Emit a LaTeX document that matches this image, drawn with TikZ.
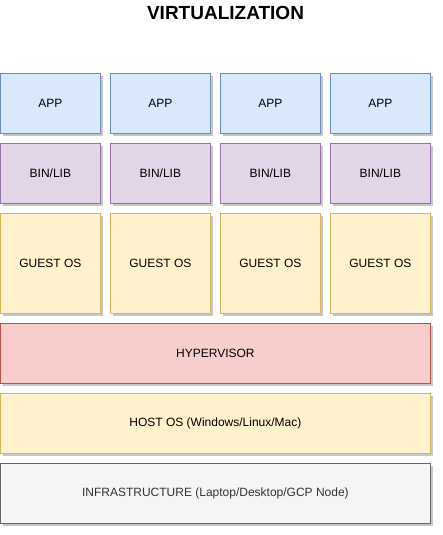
\documentclass[tikz,border=0pt]{standalone}
\usepackage{fontspec}
\setmainfont{Liberation Sans}
\usetikzlibrary{shadows}
\definecolor{bluef}{HTML}{DAE8FC}\definecolor{blued}{HTML}{6C8EBF}
\definecolor{purf}{HTML}{E1D5E7}\definecolor{purd}{HTML}{9673A6}
\definecolor{yelf}{HTML}{FFF2CC}\definecolor{yeld}{HTML}{D6B656}
\definecolor{redf}{HTML}{F8CECC}\definecolor{redd}{HTML}{B85450}
\definecolor{grayf}{HTML}{F5F5F5}\definecolor{grayd}{HTML}{666666}
\definecolor{graytxt}{HTML}{333333}
\begin{document}
\begin{tikzpicture}[x=1pt,y=-1pt,
  layer/.style={draw, line width=0.8pt, inner sep=0pt, anchor=north west,
    font=\fontsize{12}{14}\selectfont, text=black,
    drop shadow={shadow xshift=2.5pt, shadow yshift=-2.5pt, opacity=0.22, fill=black}},
  app/.style={layer, fill=bluef, draw=blued, minimum width=100pt, minimum height=60pt},
  bin/.style={layer, fill=purf, draw=purd, minimum width=100pt, minimum height=60pt},
  guest/.style={layer, fill=yelf, draw=yeld, minimum width=100pt, minimum height=100pt},
  wide/.style={layer, minimum width=430pt, minimum height=60pt},
  title/.style={font=\fontsize{19}{21}\selectfont\bfseries}]
\useasboundingbox (0,0) rectangle (442,535);
\node[title] (title) at (225.5,13) {VIRTUALIZATION};
\foreach \i/\x in {1/0,2/110,3/220,4/330}{
  \node[app] (app\i) at (\x,73) {APP};
  \node[bin] (bin\i) at (\x,143) {BIN/LIB};
  \node[guest] (guest\i) at (\x,213) {GUEST OS};
}
\node[wide, fill=redf, draw=redd] (hyp) at (0,323) {HYPERVISOR};
\node[wide, fill=yelf, draw=yeld] (host) at (0,393) {HOST OS (Windows/Linux/Mac)};
\node[wide, fill=grayf, draw=grayd, text=graytxt] (infra) at (0,463) {INFRASTRUCTURE (Laptop/Desktop/GCP Node)};
\end{tikzpicture}
\end{document}
